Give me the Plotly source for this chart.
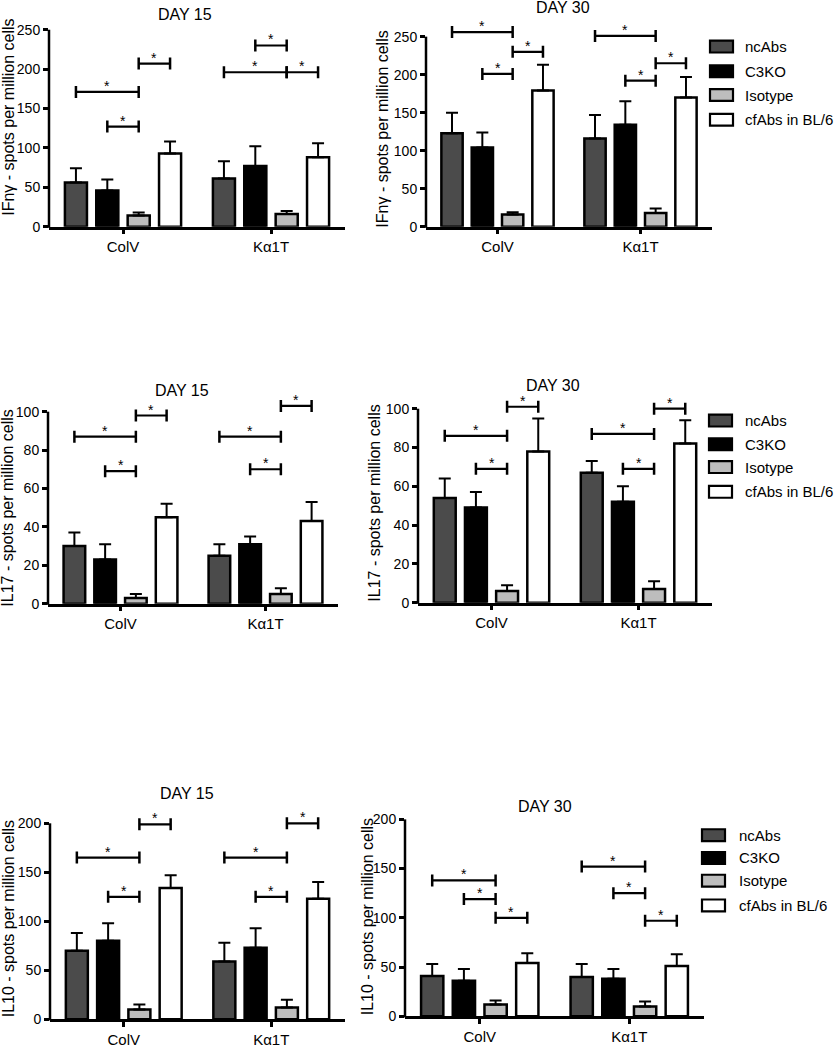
import plotly.graph_objects as go

W, H = 836, 1050
FONT = "Liberation Sans, Arial, Helvetica, sans-serif"

categories = ["ColV", "Kα1T"]
series = ["ncAbs", "C3KO", "Isotype", "cfAbs in BL/6"]
colors = ["#4b4b4b", "#000000", "#bdbdbd", "#ffffff"]

# values per series: [ColV, Kα1T]
ifng_d15_mean = [[56, 61], [46, 77], [14, 16], [93, 88]]
ifng_d15_sem = [[18, 22], [14, 25], [4, 4], [15, 18]]
ifng_d30_mean = [[123, 116], [104, 134], [16, 18], [179, 170]]
ifng_d30_sem = [[27, 31], [20, 31], [3, 6], [34, 27]]
il17_d15_mean = [[30, 25], [23, 31], [3, 5], [45, 43]]
il17_d15_sem = [[7, 6], [8, 4], [2, 3], [7, 10]]
il17_d30_mean = [[54, 67], [49, 52], [6, 7], [78, 82]]
il17_d30_sem = [[10, 6], [8, 8], [3, 4], [17, 12]]
il10_d15_mean = [[70, 59], [80, 73], [10, 12], [134, 123]]
il10_d15_sem = [[18, 19], [18, 20], [5, 8], [13, 17]]
il10_d30_mean = [[41, 40], [36, 38], [12, 10], [54, 51]]
il10_d30_sem = [[12, 13], [12, 10], [4, 5], [10, 12]]

# significance brackets: (category index, bar from, bar to, level)
ifng_d15_sig = [(0, 0, 2, 171), (0, 1, 2, 127), (0, 2, 3, 207),
                (1, 0, 2, 196), (1, 1, 2, 230), (1, 2, 3, 196)]
ifng_d30_sig = [(0, 0, 2, 256), (0, 1, 2, 201), (0, 2, 3, 230),
                (1, 0, 2, 251), (1, 1, 2, 192), (1, 2, 3, 215)]
il17_d15_sig = [(0, 0, 2, 87), (0, 1, 2, 69), (0, 2, 3, 98),
                (1, 0, 2, 87), (1, 1, 2, 70), (1, 2, 3, 103)]
il17_d30_sig = [(0, 0, 2, 86), (0, 1, 2, 69), (0, 2, 3, 101),
                (1, 0, 2, 87), (1, 1, 2, 69), (1, 2, 3, 100)]
il10_d15_sig = [(0, 0, 2, 165), (0, 1, 2, 125), (0, 2, 3, 199),
                (1, 0, 2, 165), (1, 1, 2, 125), (1, 2, 3, 200)]
il10_d30_sig = [(0, 0, 2, 138), (0, 1, 2, 119), (0, 2, 3, 100),
                (1, 0, 2, 152), (1, 1, 2, 125), (1, 2, 3, 97)]

ifng_ticks = [0, 50, 100, 150, 200, 250]
il17_ticks = [0, 20, 40, 60, 80, 100]
il10_ticks = [0, 50, 100, 150, 200]

# layout of each panel in pixels
panels = [
    dict(mean=ifng_d15_mean, sem=ifng_d15_sem, sig=ifng_d15_sig, ticks=ifng_ticks,
         title="DAY 15", ytitle="IFnγ - spots per million cells",
         left=49, right=345, p0=226, top=27, R=262,
         tpos=(185, 12), ypos=(9, 116), legend=None),
    dict(mean=ifng_d30_mean, sem=ifng_d30_sem, sig=ifng_d30_sig, ticks=ifng_ticks,
         title="DAY 30", ytitle="IFnγ - spots per million cells",
         left=426, right=712, p0=226, top=34, R=272,
         tpos=(563, 5), ypos=(383, 128), legend=(710, 743, [44, 69, 93, 118])),
    dict(mean=il17_d15_mean, sem=il17_d15_sem, sig=il17_d15_sig, ticks=il17_ticks,
         title="DAY 15", ytitle="IL17 - spots per million cells",
         left=48, right=338, p0=607, top=413, R=108,
         tpos=(182, 392), ypos=(8, 511), legend=None),
    dict(mean=il17_d30_mean, sem=il17_d30_sem, sig=il17_d30_sig, ticks=il17_ticks,
         title="DAY 30", ytitle="IL17 - spots per million cells",
         left=418, right=712, p0=606, top=410, R=106,
         tpos=(553, 387), ypos=(375, 506), legend=(709, 743, [422, 446, 469, 494])),
    dict(mean=il10_d15_mean, sem=il10_d15_sem, sig=il10_d15_sig, ticks=il10_ticks,
         title="DAY 15", ytitle="IL10 - spots per million cells",
         left=50, right=345, p0=1027, top=829, R=210,
         tpos=(187, 799), ypos=(8, 926), legend=None),
    dict(mean=il10_d30_mean, sem=il10_d30_sem, sig=il10_d30_sig, ticks=il10_ticks,
         title="DAY 30", ytitle="IL10 - spots per million cells",
         left=405, right=704, p0=1024, top=825, R=205,
         tpos=(545, 812), ypos=(367, 924), legend=(702, 737, [841, 864, 887, 912])),
]

BARGAP = 0.152
GROUPGAP = 0.297
D = (1 - BARGAP) / 4

fig = go.Figure()
shapes = []
annotations = []


def px_x(px):
    return px / W


def px_y(py):
    return 1 - py / H


for i, p in enumerate(panels, start=1):
    xa = "x" if i == 1 else f"x{i}"
    ya = "y" if i == 1 else f"y{i}"
    tickmax = p["ticks"][-1]
    s = (p["p0"] - p["top"]) / tickmax
    dom_top_px = p["p0"] - p["R"] * s

    for k, name in enumerate(series):
        fig.add_trace(go.Bar(
            x=categories, y=p["mean"][k], name=name,
            marker=dict(color=colors[k], line=dict(color="black", width=2.5)),
            error_y=dict(type="data", array=p["sem"][k], arrayminus=[0, 0],
                         symmetric=False, color="black", thickness=2, width=6),
            xaxis=xa, yaxis=ya, showlegend=False, hoverinfo="skip"))

    fig.update_layout(**{
        ("xaxis" if i == 1 else f"xaxis{i}"): dict(
            domain=[px_x(p["left"]), px_x(p["right"])], anchor=ya,
            type="category", range=[-0.5, 1.5], categoryorder="array",
            categoryarray=categories,
            showline=True, linewidth=2.5, linecolor="black",
            ticks="outside", ticklen=5, tickwidth=2.5, tickcolor="black",
            tickfont=dict(size=15, color="black", family=FONT),
            showgrid=False, zeroline=False, fixedrange=True),
        ("yaxis" if i == 1 else f"yaxis{i}"): dict(
            domain=[px_y(p["p0"]), px_y(dom_top_px)], anchor=xa,
            range=[0, p["R"]], tickvals=p["ticks"],
            showline=False, ticks="outside", ticklen=5, tickwidth=2.5,
            tickcolor="black", tickfont=dict(size=14, color="black", family=FONT),
            showgrid=False, zeroline=False, fixedrange=True),
    })

    # y axis line from 0 to the top tick
    shapes.append(dict(type="line", xref="paper", yref="paper",
                       x0=px_x(p["left"]), x1=px_x(p["left"]),
                       y0=px_y(p["p0"] + 1.2), y1=px_y(p["top"]),
                       line=dict(color="black", width=2.5)))

    # significance brackets
    for (c, b0, b1, lvl) in p["sig"]:
        x0 = c + (b0 - 1.5) * D
        x1 = c + (b1 - 1.5) * D
        shapes.append(dict(type="line", xref=xa, yref=ya, x0=x0, x1=x1,
                           y0=lvl, y1=lvl, line=dict(color="black", width=2.2)))
        for xe in (x0, x1):
            shapes.append(dict(type="line", xref=xa, yref=ya, x0=xe, x1=xe,
                               ysizemode="pixel", yanchor=lvl, y0=-6, y1=6,
                               line=dict(color="black", width=2.5)))
        annotations.append(dict(x=(x0 + x1) / 2, y=lvl, xref=xa, yref=ya,
                                text="*", showarrow=False, yanchor="bottom",
                                yshift=-4, font=dict(size=14, color="black", family=FONT)))

    # panel title
    annotations.append(dict(x=px_x(p["tpos"][0]), y=px_y(p["tpos"][1]),
                            xref="paper", yref="paper", text=p["title"],
                            showarrow=False, xanchor="center", yanchor="middle",
                            font=dict(size=16, color="black", family=FONT)))
    # y title
    annotations.append(dict(x=px_x(p["ypos"][0]), y=px_y(p["ypos"][1]),
                            xref="paper", yref="paper", text=p["ytitle"],
                            textangle=-90, showarrow=False,
                            xanchor="center", yanchor="middle",
                            font=dict(size=16, color="black", family=FONT)))

    # legend
    if p["legend"] is not None:
        bx, tx, rows = p["legend"]
        for k, name in enumerate(series):
            cy = rows[k]
            shapes.append(dict(type="rect", xref="paper", yref="paper",
                               x0=px_x(bx), x1=px_x(bx + 23),
                               y0=px_y(cy + 6), y1=px_y(cy - 6),
                               fillcolor=colors[k],
                               line=dict(color="black", width=2.2)))
            annotations.append(dict(x=px_x(tx), y=px_y(cy), xref="paper",
                                    yref="paper", text=name, showarrow=False,
                                    xanchor="left", yanchor="middle",
                                    font=dict(size=15, color="black", family=FONT)))

fig.update_layout(
    width=W, height=H, autosize=False,
    margin=dict(l=0, r=0, t=0, b=0),
    paper_bgcolor="white", plot_bgcolor="white",
    barmode="group", bargap=BARGAP, bargroupgap=GROUPGAP,
    shapes=shapes, annotations=annotations,
    showlegend=False,
    font=dict(family=FONT, color="black"),
)

fig.write_html("out.html", config={"displayModeBar": False},
               post_script="document.body.style.margin='0px';document.body.style.padding='0px';")
